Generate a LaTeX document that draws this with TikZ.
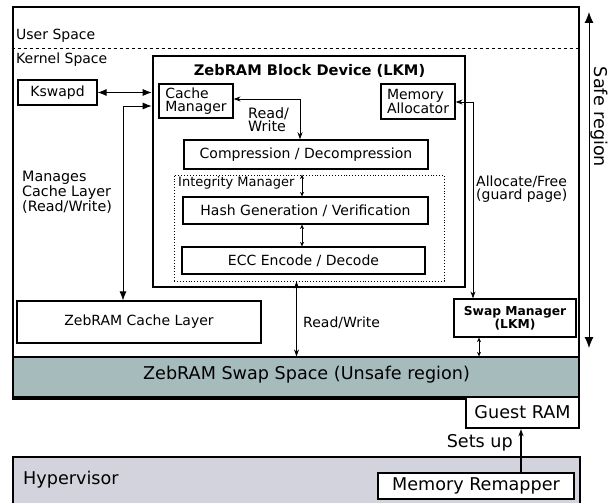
\documentclass[tikz,border=0pt]{standalone}
\usepackage{fontspec}
\setmainfont{DejaVu Sans}
\usepackage{xcolor}
\usepackage{tikz}
\usetikzlibrary{positioning,calc,arrows.meta}

\definecolor{swapgray}{HTML}{A6BBBC}
\definecolor{hypgray}{HTML}{D3D3DD}

\tikzset{
    every node/.style={font=\fontsize{14}{13.6}\selectfont, inner sep=0pt},
    bigfont/.style={font=\fontsize{17.6}{20}\selectfont},
    blk/.style={draw, line width=1.2pt, align=center},
    thickblk/.style={draw, line width=2.6pt},
    bigarr/.style={line width=0.9pt, {Latex[length=9pt,width=7pt]}-{Latex[length=9pt,width=7pt]}},
    midarr/.style={line width=0.8pt, {Stealth[length=7pt,width=5pt]}-{Stealth[length=7pt,width=5pt]}},
    tinyarr/.style={line width=0.8pt, {Stealth[length=4.5pt,width=4pt]}-{Stealth[length=4.5pt,width=4pt]}}
}

\begin{document}
\begin{tikzpicture}[x=1pt,y=-1pt]
    \useasboundingbox (0,0) rectangle (613,503);
    \clip (0,0) rectangle (613,503);

    % guest side
    \node[thickblk, minimum width=566, minimum height=390] (guest) at (296,202) {};
    \draw[dashed, line width=0.7pt] (guest.west |- 0,48) -- (guest.east |- 0,48);
    \node[anchor=west] (user) at (16,36) {User Space};
    \node[anchor=west] (kernel) at (16,60) {Kernel Space};

    \node[draw, fill=swapgray, line width=1.2pt, minimum width=566, minimum height=40] (swap) at (296,377) {};
    \node[bigfont] (swaplbl) at (306.5,375) {ZebRAM Swap Space (Unsafe region)};
    \draw[line width=2.6pt] (guest.south west) -- (guest.south east);

    \node[thickblk, minimum width=312, minimum height=231] (blockdev) at (309,171.5) {};
    \node[font=\fontsize{14.6}{16}\selectfont\bfseries] (title) at (309.5,71) {ZebRAM Block Device (LKM)};

    \node[blk, minimum width=79, minimum height=25] (kswapd) at (57.5,92.5) {Kswapd};
    \node[blk, align=left, minimum width=74, minimum height=34] (cachemgr) at (196,101) {Cache\\Manager};
    \node[blk, align=left, minimum width=74, minimum height=35] (memalloc) at (418,101.5) {Memory\\Allocator};
    \node[blk, line width=1.5pt, minimum width=244, minimum height=29] (compress) at (306,154.5) {Compression / Decompression};

    \node[draw, dotted, line width=0.9pt, minimum width=270, minimum height=106] (integ) at (309,228) {};
    \node[anchor=west, font=\fontsize{13}{14}\selectfont] (integlbl) at (178,183) {Integrity Manager};
    \node[blk, minimum width=245, minimum height=27] (hash) at (305.5,210.5) {Hash Generation / Verification};
    \node[blk, minimum width=243, minimum height=27] (ecc) at (303.5,260.5) {ECC Encode / Decode};

    \node[blk, minimum width=244, minimum height=42] (cachelayer) at (139,322) {ZebRAM Cache Layer};
    \node[blk, minimum width=122, minimum height=38, font=\fontsize{12.3}{11.5}\selectfont\bfseries] (swapmgr) at (515,318) {Swap Manager\\(LKM)};

    \node[draw, bigfont, line width=2.4pt, fill=white, minimum width=113, minimum height=31] (guestram) at (522.5,412.5) {Guest RAM};

    % hypervisor side
    \node[draw, fill=hypgray, line width=1.5pt, minimum width=567, minimum height=63] (hyper) at (296.5,488.5) {};
    \node[anchor=west, bigfont] (hyperlbl) at (23,480) {Hypervisor};
    \node[blk, bigfont, fill=white, minimum width=196, minimum height=26] (remap) at (476,486) {Memory Remapper};

    % connectors
    \coordinate (mc) at (123,106);
    \coordinate (rw) at (300,99);
    \coordinate (ax) at (302,0);
    \coordinate (bx) at (296.5,0);
    \coordinate (ac) at (473,102);
    \coordinate (sx) at (479,0);
    \coordinate (sr) at (589,0);
    \coordinate (su) at (521,0);

    \draw[bigarr] (kswapd.east) -- (kswapd.east -| blockdev.west);
    \draw[bigarr] (blockdev.west |- mc) -- (mc) -- (mc |- cachelayer.north);
    \node[align=left, anchor=west, font=\fontsize{14.3}{13.6}\selectfont] (mngl) at (22,192) {Manages\\Cache Layer\\(Read/Write)};

    \draw[midarr] (cachemgr.east |- rw) -- (rw) -- (rw |- compress.north);
    \node[align=left, anchor=west, font=\fontsize{14.3}{13.6}\selectfont] (rwl) at (248,119.5) {Read/\\Write};

    \draw[tinyarr] (integ.north -| ax) -- (hash.north -| ax);
    \draw[tinyarr] (hash.south -| ax) -- (ecc.north -| ax);

    \draw[midarr] (integ.south -| bx) -- (swap.north -| bx);
    \node[anchor=west] (rwl2) at (303,323) {Read/Write};

    \draw[midarr] (memalloc.east |- ac) -- (ac) -- (ac |- swapmgr.north);
    \node[align=left, anchor=west] (allocl) at (476,189) {Allocate/Free\\(guard page)};

    \draw[tinyarr] (swapmgr.south -| sx) -- (swap.north -| sx);

    \draw[line width=1pt, {Latex[length=11pt,width=9pt]}-{Latex[length=11pt,width=9pt]}] (sr |- 0,12) -- (sr |- 0,348);
    \node[rotate=-90, bigfont] (safel) at (599,117) {Safe region};

    \draw[line width=1.1pt, -{Stealth[length=7pt,width=5pt]}] (remap.north -| su) -- (guestram.south -| su);
    \node[anchor=east, bigfont] (setsl) at (513,443) {Sets up};
\end{tikzpicture}
\end{document}
